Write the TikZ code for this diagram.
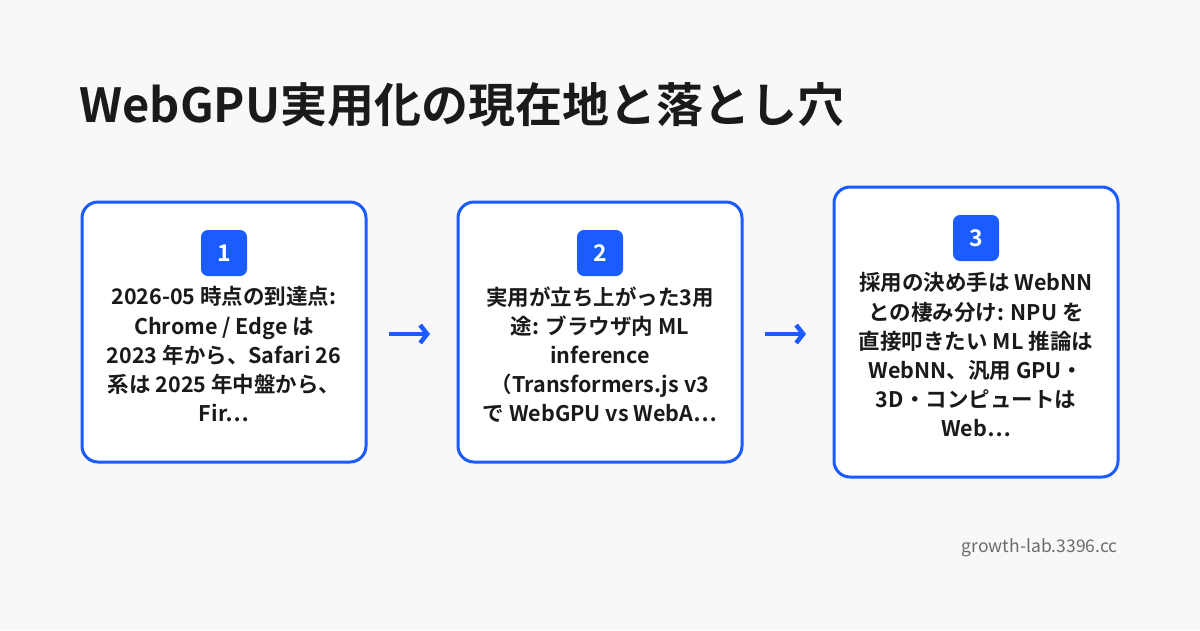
\documentclass[tikz,border=0pt]{standalone}
\usepackage{fontspec}
\usetikzlibrary{arrows.meta}
\setmainfont{Noto Sans CJK JP}[BoldFont={Noto Sans CJK JP Bold}]
\definecolor{bg}{HTML}{F8F8F8}
\definecolor{acc}{HTML}{1A5CFF}
\definecolor{ink}{HTML}{1A1A1A}
\begin{document}
\begin{tikzpicture}[x=1pt,y=-1pt,
  card/.style={draw=acc,line width=3pt,fill=white,rounded corners=16pt},
  badge/.style={fill=acc,rounded corners=7pt,minimum size=46pt,inner sep=0pt,text=white,font=\bfseries\fontsize{23}{23}\selectfont},
  body/.style={align=center,text=ink,font=\bfseries\fontsize{21.5}{29.2}\selectfont,anchor=north},
  arr/.style={draw=acc,line width=4.5pt,-{Straight Barb[length=7pt,width=18pt,line width=4.5pt]}}]
\useasboundingbox (0,0) rectangle (1200,630);
\fill[bg] (0,0) rectangle (1200,630);
\node[anchor=west,text=ink,font=\bfseries\fontsize{47}{47}\selectfont] (title) at (76,105) {WebGPU実用化の現在地と落とし穴};
\draw[card] (82,202) rectangle (366,462);
\draw[card] (458,202) rectangle (742,462);
\draw[card] (834,187) rectangle (1118,477);
\node[badge] (b1) at (224,253) {1};
\node[badge] (b2) at (600,253) {2};
\node[badge] (b3) at (976,238) {3};
\node[body] (t1) at (224,283) {2026-05 時点の到達点:\\Chrome / Edge は\\2023 年から、Safari 26\\系は 2025 年中盤から、\\Fir…};
\node[body] (t2) at (600,283) {実用が立ち上がった3用\\途: ブラウザ内 ML\\inference\\（Transformers.js v3\\で WebGPU vs WebA…};
\node[body] (t3) at (976,269) {採用の決め手は WebNN\\との棲み分け: NPU を\\直接叩きたい ML 推論は\\WebNN、汎用 GPU・\\3D・コンピュートは\\Web…};
\coordinate (a1s) at (389,334); \coordinate (a1e) at (430,334);
\coordinate (a2s) at (765,334); \coordinate (a2e) at (806,334);
\draw[arr] (a1s) -- (a1e);
\draw[arr] (a2s) -- (a2e);
\node[anchor=east,text=gray!85!black,font=\fontsize{17.5}{17.5}\selectfont] (foot) at (1121,548) {growth-lab.3396.cc};
\end{tikzpicture}
\end{document}
